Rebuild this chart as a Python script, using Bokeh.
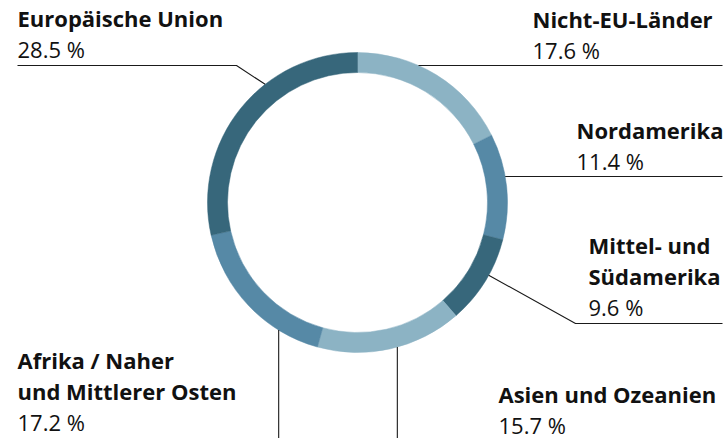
import math
from bokeh.plotting import figure
from bokeh.models import Range1d
from bokeh.core.properties import value
from bokeh.embed import file_html
from bokeh.resources import INLINE

# ---- data (clockwise from 12 o'clock) ----
regions = ["Nicht-EU-Länder", "Nordamerika", "Mittel- und\nSüdamerika",
           "Asien und Ozeanien", "Afrika / Naher\nund Mittlerer Osten", "Europäische Union"]
shares = [17.6, 11.4, 9.6, 15.7, 17.2, 28.5]
colors = ["#8cb3c4", "#5689a6", "#37677b", "#8cb3c4", "#5689a6", "#37677b"]

# ---- layout (picture pixel coordinates; data y = -picture y) ----
W, H = 726, 438
CX, CY = 357, 202
R_OUT, R_IN = 150, 130
FONT = "Open Sans"
FS = "22px"
LINE_H = 31
TEXT_DY = -9
labels = [
    dict(x=532, y=27, ang=24.0, kind="h", end=722),
    dict(x=576, y=138, ang=80.0, kind="h", end=722),
    dict(x=588, y=253, ang=119.0, kind="elbow", elbow=(575, 323), end=722),
    dict(x=498, y=402, ang=164.6, kind="v", end=440),
    dict(x=17, y=368, ang=211.7, kind="v", end=440),
    dict(x=17, y=26, ang=322.0, kind="elbow", elbow=(236, 65), end=17),
]

p = figure(width=W, height=H, output_backend="svg", toolbar_location=None,
           x_range=Range1d(0, W), y_range=Range1d(-H, 0),
           x_axis_type=None, y_axis_type=None, min_border=0,
           outline_line_color=None, background_fill_color="white",
           border_fill_color="white")
p.grid.visible = False

# donut
total = sum(shares)
cum = 0.0
starts, ends = [], []
for s in shares:
    a1 = cum / total * 360.0
    cum += s
    a2 = cum / total * 360.0
    starts.append(math.radians(90 - a2))
    ends.append(math.radians(90 - a1))
p.annular_wedge(x=CX, y=-CY, inner_radius=R_IN, outer_radius=R_OUT,
                start_angle=starts, end_angle=ends, fill_color=colors,
                line_color=colors, line_width=0.5)

# labels and leader lines
for name, share, lab in zip(regions, shares, labels):
    y = lab["y"] + TEXT_DY
    for ln in name.split("\n"):
        p.text(x=[lab["x"]], y=[-y], text=[ln], text_font=value(FONT),
               text_font_size=FS, text_font_style="bold", text_color="#111111",
               text_baseline="alphabetic", text_align="left")
        y += LINE_H
    p.text(x=[lab["x"]], y=[-y], text=[f"{share:.1f} %"], text_font=value(FONT),
           text_font_size=FS, text_color="#111111",
           text_baseline="alphabetic", text_align="left")
    th = math.radians(lab["ang"])
    ax = CX + R_OUT * math.sin(th)
    ay = CY - R_OUT * math.cos(th)
    if lab["kind"] == "h":
        xs, ys = [ax, lab["end"]], [ay, ay]
    elif lab["kind"] == "v":
        xs, ys = [ax, ax], [ay, lab["end"]]
    else:
        ex, ey = lab["elbow"]
        xs, ys = [ax, ex, lab["end"]], [ay, ey, ey]
    p.line(x=xs, y=[-v for v in ys], line_color="#1a1a1a", line_width=1.1)

open("out.html", "w").write(file_html(p, INLINE))
